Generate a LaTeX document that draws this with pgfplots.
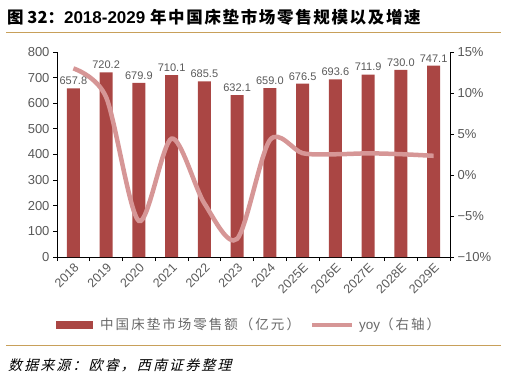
\documentclass[border=0pt]{standalone}
\usepackage{pgfplots}
\pgfplotsset{compat=1.18}
\usepackage{fontspec}
\setmainfont{Liberation Sans}
\newfontfamily\lat{Liberation Sans}
\newfontfamily\cjk{Noto Sans CJK SC}
\newfontfamily\cjksp[LetterSpace=15]{Noto Sans CJK SC}
\newfontfamily\cjkt[LetterSpace=10]{Noto Sans CJK SC}
\newfontfamily\cjkit[FakeSlant=0.25,LetterSpace=15]{Noto Sans CJK SC}
\definecolor{barc}{RGB}{170,70,68}
\definecolor{linec}{RGB}{214,150,150}
\definecolor{gold}{RGB}{200,160,90}
\definecolor{tickc}{RGB}{89,89,89}
\definecolor{legc}{RGB}{105,105,105}
\begin{document}
\begin{tikzpicture}[x=1pt,y=1pt]
\useasboundingbox (0,0) rectangle (507,-378);
\node[anchor=base west, inner sep=0pt] at (7,-23) {\fontsize{16.5}{18}\selectfont\bfseries\cjk 图 32：\normalfont\fontsize{17}{18}\selectfont\bfseries 2018-2029 \cjkt\fontsize{16.5}{18}\selectfont\bfseries 年中国床垫市场零售规模以及增速};
\draw[gold, line width=0.8pt] (6,-32) -- (501,-32);
\begin{axis}[at={(57pt,-257pt)}, anchor=south west, width=393pt, height=205pt, scale only axis,
  /pgf/number format/assume math mode=true,
  xmin=-0.5, xmax=11.5, ymin=0, ymax=800,
  ytick={0,100,...,800},
  axis y line*=left, axis x line*=bottom,
  xtick={0,...,11},
  xticklabels={2018,2019,2020,2021,2022,2023,2024,2025E,2026E,2027E,2028E,2029E},
  x tick label style={rotate=45, anchor=north east, font=\fontsize{12.5}{14}\selectfont, text=tickc, inner sep=1pt},
  y tick label style={font=\fontsize{13}{15}\selectfont, text=tickc},
  major x tick style={draw=none},
  minor xtick={-0.5,0.5,...,11.5},
  tick align=outside, major tick length=4pt, minor tick length=4pt,
  every tick/.style={black, line width=0.8pt},
  axis line style={black, line width=0.8pt},
  ybar, bar width=13pt,
  nodes near coords,
  nodes near coords style={font=\fontsize{11}{12}\selectfont, text=tickc, /pgf/number format/.cd, fixed, fixed zerofill, precision=1},
  legend style={at={(0.489,-0.33)}, anchor=center, draw=none, font=\cjksp\fontsize{13.5}{15}\selectfont, text=legc, legend columns=2, /tikz/every even column/.append style={column sep=8pt}},
  clip=false,
]
\addplot[fill=barc, draw=none, legend image code/.code={\fill[barc] (0pt,-4pt) rectangle (37pt,4pt);}] coordinates {
(0,657.8)(1,720.2)(2,679.9)(3,710.1)(4,685.5)(5,632.1)(6,659.0)(7,676.5)(8,693.6)(9,711.9)(10,730.0)(11,747.1)};
\addlegendentry{\hspace{5pt}中国床垫市场零售额（亿元）}
\addlegendimage{legend image code/.code={\draw[linec, line width=4pt] (0pt,0pt) -- (40pt,0pt);}}
\addlegendentry{\hspace{3pt}{\lat yoy}（右轴）}
\end{axis}
\begin{axis}[at={(57pt,-257pt)}, anchor=south west, width=393pt, height=205pt, scale only axis,
  xmin=-0.5, xmax=11.5, ymin=-10, ymax=15,
  axis x line=none, axis y line*=right,
  ytick={-10,-5,0,5,10,15},
  yticklabels={−10\%,−5\%,0\%,5\%,10\%,15\%},
  y tick label style={font=\fontsize{13}{15}\selectfont, text=tickc},
  tick align=outside, major tick length=4pt,
  every tick/.style={black, line width=0.8pt},
  axis line style={black, line width=0.8pt},
]
\addplot[linec, line width=4.5pt, smooth] coordinates {
(0,13.0)(1,9.49)(2,-5.6)(3,4.44)(4,-3.46)(5,-7.79)(6,4.26)(7,2.66)(8,2.53)(9,2.64)(10,2.54)(11,2.34)};
\end{axis}
\draw[gold, line width=0.8pt] (6,-345) -- (501,-345);
\node[anchor=base west, inner sep=0pt] at (8,-370) {\cjkit\fontsize{14}{15}\selectfont 数据来源：欧睿，西南证券整理};
\end{tikzpicture}
\end{document}
